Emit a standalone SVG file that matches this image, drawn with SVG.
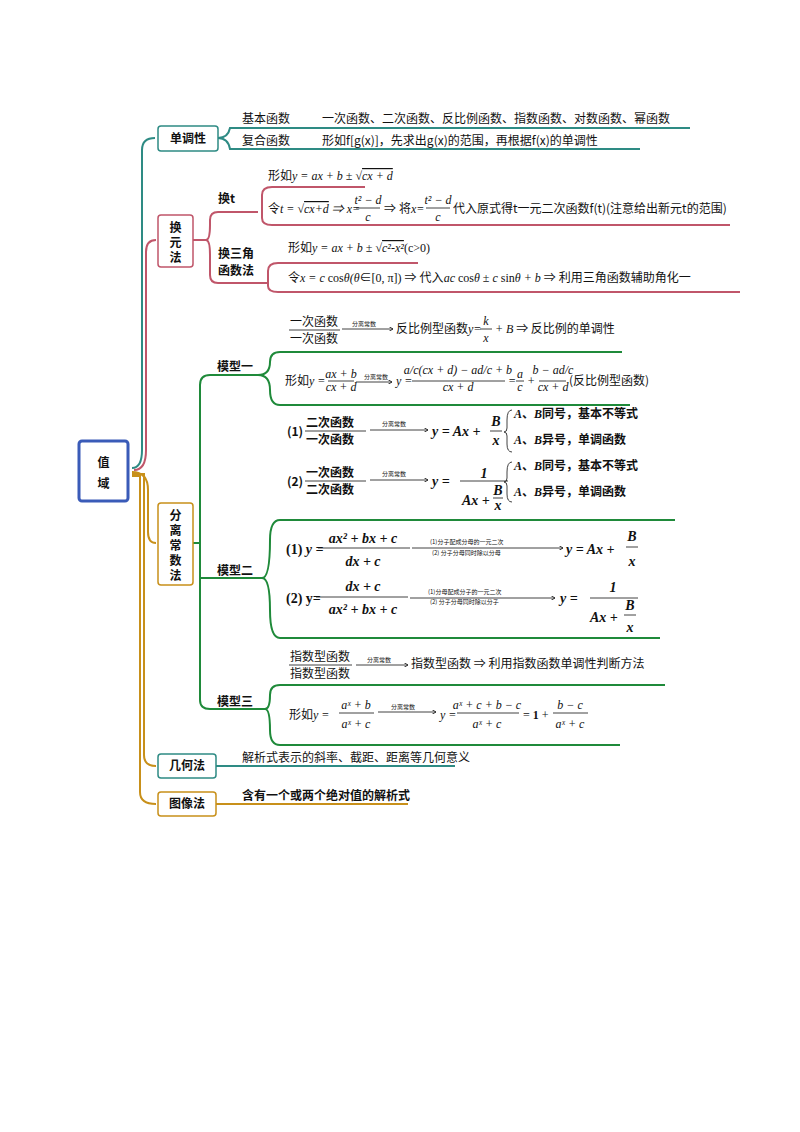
<svg xmlns="http://www.w3.org/2000/svg" width="800" height="1132" viewBox="0 0 800 1132">
<style>
.cn{font-family:"Noto Sans CJK SC","Liberation Sans",sans-serif;font-size:12px;fill:#111}
.cb{font-family:"Noto Sans CJK SC",sans-serif;font-size:12px;font-weight:bold;fill:#111}
.m{font-family:"Liberation Serif","Noto Sans CJK SC",serif;font-size:12px;fill:#111}
.mi{font-family:"Liberation Serif","Noto Sans CJK SC",serif;font-size:12px;font-style:italic;fill:#111}
.mb{font-family:"Liberation Serif","Noto Sans CJK SC",serif;font-size:14px;font-style:italic;font-weight:bold;fill:#111}
.s{font-family:"Noto Sans CJK SC",sans-serif;font-size:6px;fill:#111}
.fl{stroke:#111;stroke-width:0.8;fill:none}
.teal{stroke:#2e8b84;fill:none;stroke-width:2}
.pink{stroke:#c0566a;fill:none;stroke-width:2}
.gold{stroke:#c8901a;fill:none;stroke-width:2}
.green{stroke:#1f8a3a;fill:none;stroke-width:2}
</style>
<defs><marker id="ar" markerWidth="6" markerHeight="6" refX="5" refY="3" orient="auto"><path d="M0,0 L5,3 L0,6" fill="none" stroke="#111" stroke-width="1"/></marker></defs>
<rect width="800" height="1132" fill="#fff"/>
<g id="connectors">
<path class="teal" d="M132,468 Q142,468 142,450 L142,150 Q142,138 155,138"/>
<path class="pink" d="M134,470 Q146,470 146,450 L146,252 Q146,240 156,240"/>
<path class="gold" d="M132,472 Q148,472 148,490 L148,532 Q148,543 156,543"/>
<path class="gold" d="M132,474 L144,474 L144,755 Q144,766 156,766"/>
<path class="gold" d="M132,476 L140,476 L140,792 Q140,804 156,804"/>
<path class="teal" d="M218,138 Q228,138 230,128 L305,128 L690,128"/>
<path class="teal" d="M218,138 Q228,138 230,149 L305,149 L640,149"/>
<path class="pink" d="M193,240 L206,240 Q210,240 210,225 L210,220 Q210,212 218,212 L258,212"/>
<path class="pink" d="M193,240 L206,240 Q210,240 210,255 L210,275 Q210,283 218,283 L268,283"/>
<path class="pink" d="M262,212 L262,195 Q262,187 272,187 L365,187 M262,212 L262,218 Q262,225 272,225 L730,225"/>
<path class="pink" d="M268,283 L268,271 Q268,263 278,263 L418,263 M268,283 L268,286 Q268,292 278,292 L740,292"/>
<path class="green" d="M193,543 L200,543 L200,385 Q200,375 210,375 L258,375 M200,543 L200,578 L262,578 M200,578 L200,700 Q200,709 210,709 L265,709"/>
<path class="green" d="M258,375 Q270,375 270,362 Q270,352 280,352 L622,352 M258,375 Q270,375 270,390 Q270,405 280,405 L630,405"/>
<path class="green" d="M262,578 Q270,578 270,540 Q270,520 280,520 L675,520 M262,578 Q270,578 270,610 Q270,638 280,638 L660,638"/>
<path class="green" d="M265,709 Q270,709 270,695 Q270,685 280,685 L665,685 M265,709 Q270,709 270,730 Q270,745 280,745 L620,745"/>
<path class="teal" d="M216,766 L455,766"/>
<path class="gold" d="M216,804 L408,804"/>
</g>
<g id="root"><rect x="79" y="441" width="49" height="60" rx="3" fill="#fff" stroke="#3a5bb8" stroke-width="3"/><text class="cb" font-size="15" x="103.5" y="467" text-anchor="middle">值</text><text class="cb" font-size="15" x="103.5" y="488" text-anchor="middle">域</text></g>
<g id="n1"><rect x="158" y="126" width="60" height="25" rx="3" fill="#fff" stroke="#2e8b84" stroke-width="1.5"/><text class="cb" x="188" y="143" text-anchor="middle">单调性</text>
<text class="cn" x="242" y="123">基本函数</text><text class="cn" x="322" y="123">一次函数、二次函数、反比例函数、指数函数、对数函数、幂函数</text>
<text class="cn" x="242" y="145">复合函数</text><text class="cn" x="322" y="145">形如f[g(x)]，先求出g(x)的范围，再根据f(x)的单调性</text></g>
<g id="n2"><rect x="158" y="215" width="35" height="52" rx="3" fill="#fff" stroke="#c0566a" stroke-width="1.5"/><text class="cb" x="175.5" y="232" text-anchor="middle">换</text><text class="cb" x="175.5" y="247" text-anchor="middle">元</text><text class="cb" x="175.5" y="262" text-anchor="middle">法</text>
<text class="cb" x="218" y="203">换t</text>
<text class="m" x="268" y="180">形如<tspan class="mi">y = ax + b ± √<tspan text-decoration="overline">cx + d</tspan></tspan></text>
<text class="m" x="268" y="213">令<tspan class="mi">t = √<tspan text-decoration="overline">cx+d</tspan> ⇒ x=</tspan></text>
<text class="mi" x="368" y="204" text-anchor="middle">t² − d</text><line class="fl" x1="356" y1="208" x2="380" y2="208"/><text class="mi" x="368" y="221" text-anchor="middle">c</text>
<text class="m" x="384" y="213">⇒ 将<tspan class="mi">x=</tspan></text>
<text class="mi" x="438" y="204" text-anchor="middle">t² − d</text><line class="fl" x1="426" y1="208" x2="450" y2="208"/><text class="mi" x="438" y="221" text-anchor="middle">c</text>
<text class="cn" x="453" y="213" font-size="10.5">代入原式得t一元二次函数f(t)(注意给出新元t的范围)</text>
<text class="cb" x="218" y="258">换三角</text><text class="cb" x="218" y="275">函数法</text>
<text class="m" x="288" y="252">形如<tspan class="mi">y = ax + b ± √<tspan text-decoration="overline">c²-x²</tspan></tspan>(c&gt;0)</text>
<text class="m" x="288" y="282">令<tspan class="mi">x = c</tspan> cos<tspan class="mi">θ(θ</tspan>∈[0, π]) ⇒ 代入<tspan class="mi">ac</tspan> cos<tspan class="mi">θ</tspan> ± <tspan class="mi">c</tspan> sin<tspan class="mi">θ + b</tspan> ⇒ 利用三角函数辅助角化一</text></g>
<g id="n3"><rect x="158" y="503" width="35" height="82" rx="3" fill="#fff" stroke="#c8901a" stroke-width="1.5"/><text class="cb" x="175.5" y="520" text-anchor="middle">分</text><text class="cb" x="175.5" y="535" text-anchor="middle">离</text><text class="cb" x="175.5" y="550" text-anchor="middle">常</text><text class="cb" x="175.5" y="565" text-anchor="middle">数</text><text class="cb" x="175.5" y="580" text-anchor="middle">法</text>
<text class="cb" x="217" y="371">模型一</text><text class="cb" x="217" y="575">模型二</text><text class="cb" x="217" y="706">模型三</text>
<text class="cn" x="290" y="326">一次函数</text><line class="fl" x1="289" y1="330" x2="340" y2="330"/><text class="cn" x="290" y="343">一次函数</text>
<text class="s" x="352" y="326">分离常数</text><line class="fl" x1="342" y1="329" x2="393" y2="329" marker-end="url(#ar)"/>
<text class="cn" x="396" y="333">反比例型函数<tspan class="mi">y=</tspan></text><text class="mi" x="486" y="325" text-anchor="middle">k</text><line class="fl" x1="480" y1="329" x2="492" y2="329"/><text class="mi" x="486" y="342" text-anchor="middle">x</text>
<text class="cn" x="495" y="333"><tspan class="mi">+ B</tspan> ⇒ 反比例的单调性</text>
<text class="m" x="285" y="385" font-size="9">形如<tspan class="mi">y =</tspan></text>
<text class="mi" x="341" y="378" text-anchor="middle" font-size="8">ax + b</text><line class="fl" x1="328" y1="381" x2="354" y2="381"/><text class="mi" x="341" y="391" text-anchor="middle" font-size="8">cx + d</text>
<text class="s" x="364" y="379">分离常数</text><line class="fl" x1="356" y1="382" x2="392" y2="382" marker-end="url(#ar)"/>
<text class="mi" x="396" y="385" font-size="9">y =</text>
<text class="mi" x="458" y="374" text-anchor="middle" font-size="8">a/c(cx + d) − ad/c + b</text><line class="fl" x1="412" y1="381" x2="505" y2="381"/><text class="mi" x="458" y="391" text-anchor="middle" font-size="8">cx + d</text>
<text class="mi" x="508" y="385" font-size="9">=</text><text class="mi" x="520" y="378" text-anchor="middle" font-size="8">a</text><line class="fl" x1="516" y1="381" x2="524" y2="381"/><text class="mi" x="520" y="391" text-anchor="middle" font-size="8">c</text>
<text class="mi" x="527" y="385" font-size="9">+</text><text class="mi" x="553" y="374" text-anchor="middle" font-size="8">b − ad/c</text><line class="fl" x1="539" y1="381" x2="566" y2="381"/><text class="mi" x="553" y="391" text-anchor="middle" font-size="8">cx + d</text>
<text class="cn" x="569" y="385" font-size="9">(反比例型函数)</text>
<text class="cb" x="287" y="436">(1)</text><text class="cb" x="306" y="427">二次函数</text><line class="fl" x1="305" y1="431" x2="366" y2="431"/><text class="cb" x="306" y="444">一次函数</text>
<text class="s" x="382" y="426">分离常数</text><line class="fl" x1="370" y1="430" x2="428" y2="430" marker-end="url(#ar)"/>
<text class="mb" x="432" y="436">y = Ax +</text><text class="mb" x="496" y="426" text-anchor="middle">B</text><line class="fl" x1="490" y1="431" x2="502" y2="431"/><text class="mb" x="496" y="445" text-anchor="middle">x</text>
<path class="fl" d="M512,410 Q507,410 507,420 L507,428 Q507,432 504,432 Q507,432 507,436 L507,444 Q507,452 512,452"/>
<text class="cb" x="514" y="418"><tspan class="mi">A</tspan>、<tspan class="mi">B</tspan>同号，基本不等式</text><text class="cb" x="514" y="444"><tspan class="mi">A</tspan>、<tspan class="mi">B</tspan>异号，单调函数</text>
<text class="cb" x="287" y="486">(2)</text><text class="cb" x="306" y="477">一次函数</text><line class="fl" x1="305" y1="481" x2="366" y2="481"/><text class="cb" x="306" y="494">二次函数</text>
<text class="s" x="382" y="476">分离常数</text><line class="fl" x1="370" y1="480" x2="428" y2="480" marker-end="url(#ar)"/>
<text class="mb" x="432" y="486">y =</text><text class="mb" x="484" y="478" text-anchor="middle">1</text><line class="fl" x1="460" y1="481" x2="508" y2="481"/><text class="mb" x="462" y="505">Ax +</text><text class="mb" x="498" y="495" text-anchor="middle" font-size="12">B</text><line class="fl" x1="493" y1="498" x2="503" y2="498"/><text class="mb" x="498" y="510" text-anchor="middle" font-size="12">x</text>
<path class="fl" d="M512,462 Q507,462 507,472 L507,478 Q507,482 504,482 Q507,482 507,486 L507,494 Q507,502 512,502"/>
<text class="cb" x="514" y="470"><tspan class="mi">A</tspan>、<tspan class="mi">B</tspan>同号，基本不等式</text><text class="cb" x="514" y="496"><tspan class="mi">A</tspan>、<tspan class="mi">B</tspan>异号，单调函数</text>
<text class="mb" x="286" y="554"><tspan font-style="normal">(1)</tspan> y =</text><text class="mb" x="363" y="543" text-anchor="middle">ax² + bx + c</text><line class="fl" x1="318" y1="548" x2="410" y2="548"/><text class="mb" x="363" y="566" text-anchor="middle">dx + c</text>
<text class="s" x="430" y="544">(1)分子配成分母的一元二次</text><text class="s" x="432" y="555">(2) 分子分母同时除以分母</text><line class="fl" x1="412" y1="548" x2="563" y2="548" marker-end="url(#ar)"/>
<text class="mb" x="566" y="554">y = Ax +</text><text class="mb" x="632" y="541" text-anchor="middle">B</text><line class="fl" x1="626" y1="547" x2="638" y2="547"/><text class="mb" x="632" y="566" text-anchor="middle">x</text>
<text class="mb" x="286" y="603"><tspan font-style="normal">(2) y=</tspan></text><text class="mb" x="363" y="591" text-anchor="middle">dx + c</text><line class="fl" x1="316" y1="597" x2="408" y2="597"/><text class="mb" x="363" y="614" text-anchor="middle">ax² + bx + c</text>
<text class="s" x="428" y="594">(1)分母配成分子的一元二次</text><text class="s" x="430" y="604">(2) 分子分母同时除以分子</text><line class="fl" x1="410" y1="598" x2="555" y2="598" marker-end="url(#ar)"/>
<text class="mb" x="560" y="603">y =</text><text class="mb" x="613" y="592" text-anchor="middle">1</text><line class="fl" x1="590" y1="598" x2="638" y2="598"/><text class="mb" x="590" y="622">Ax +</text><text class="mb" x="630" y="610" text-anchor="middle">B</text><line class="fl" x1="624" y1="615" x2="636" y2="615"/><text class="mb" x="630" y="632" text-anchor="middle">x</text>
<text class="cn" x="290" y="661">指数型函数</text><line class="fl" x1="289" y1="665" x2="352" y2="665"/><text class="cn" x="290" y="678">指数型函数</text>
<text class="s" x="367" y="662">分离常数</text><line class="fl" x1="356" y1="665" x2="408" y2="665" marker-end="url(#ar)"/>
<text class="cn" x="411" y="668">指数型函数 ⇒ 利用指数函数单调性判断方法</text>
<text class="m" x="289" y="719" font-size="13">形如<tspan class="mi">y =</tspan></text><text class="mi" x="356" y="709" text-anchor="middle">aˣ + b</text><line class="fl" x1="339" y1="713" x2="374" y2="713"/><text class="mi" x="356" y="728" text-anchor="middle">aˣ + c</text>
<text class="s" x="391" y="709">分离常数</text><line class="fl" x1="378" y1="712" x2="436" y2="712" marker-end="url(#ar)"/>
<text class="mi" x="440" y="719">y =</text><text class="mi" x="487" y="709" text-anchor="middle">aˣ + c + b − c</text><line class="fl" x1="457" y1="713" x2="519" y2="713"/><text class="mi" x="487" y="728" text-anchor="middle">aˣ + c</text>
<text class="m" x="523" y="719">= <tspan font-weight="bold">1</tspan> +</text><text class="mi" x="570" y="709" text-anchor="middle">b − c</text><line class="fl" x1="553" y1="713" x2="588" y2="713"/><text class="mi" x="570" y="728" text-anchor="middle">aˣ + c</text></g>
<g id="n4"><rect x="158" y="754" width="58" height="24" rx="3" fill="#fff" stroke="#2e8b84" stroke-width="1.5"/><text class="cb" x="187" y="770" text-anchor="middle">几何法</text><text class="cn" x="242" y="762">解析式表示的斜率、截距、距离等几何意义</text></g>
<g id="n5"><rect x="158" y="792" width="58" height="24" rx="3" fill="#fff" stroke="#c8901a" stroke-width="1.5"/><text class="cb" x="187" y="808" text-anchor="middle">图像法</text><text class="cb" x="242" y="800">含有一个或两个绝对值的解析式</text></g>
</svg>
